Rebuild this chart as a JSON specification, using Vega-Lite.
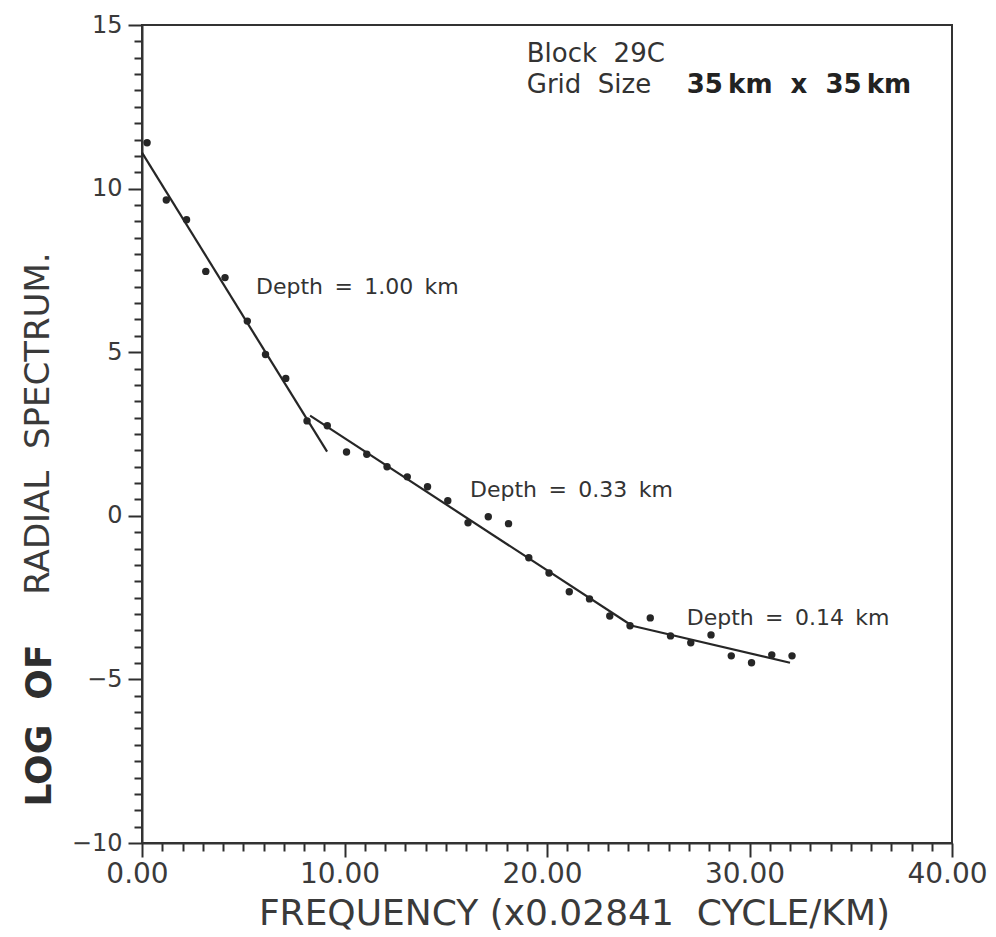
{
  "$schema": "https://vega.github.io/schema/vega-lite/v6.json",
  "width": 810,
  "height": 818,
  "autosize": {"type": "none"},
  "padding": {"left": 142, "top": 25, "right": 44, "bottom": 94},
  "background": "white",
  "config": {
    "view": {"stroke": "#333333", "strokeWidth": 2},
    "font": "DejaVu Sans",
    "text": {"font": "DejaVu Sans"}
  },
  "datasets": {
    "points": [
      {"freq": 0.25, "logspec": 11.4},
      {"freq": 1.2, "logspec": 9.65},
      {"freq": 2.2, "logspec": 9.05},
      {"freq": 3.15, "logspec": 7.47},
      {"freq": 4.1, "logspec": 7.28},
      {"freq": 5.2, "logspec": 5.95},
      {"freq": 6.1, "logspec": 4.93},
      {"freq": 7.1, "logspec": 4.2},
      {"freq": 8.15, "logspec": 2.9},
      {"freq": 9.15, "logspec": 2.75},
      {"freq": 10.1, "logspec": 1.95},
      {"freq": 11.1, "logspec": 1.88},
      {"freq": 12.1, "logspec": 1.5},
      {"freq": 13.1, "logspec": 1.19},
      {"freq": 14.1, "logspec": 0.89},
      {"freq": 15.1, "logspec": 0.46},
      {"freq": 16.1, "logspec": -0.21},
      {"freq": 17.1, "logspec": -0.03},
      {"freq": 18.1, "logspec": -0.24},
      {"freq": 19.1, "logspec": -1.28},
      {"freq": 20.1, "logspec": -1.75},
      {"freq": 21.1, "logspec": -2.32},
      {"freq": 22.1, "logspec": -2.54},
      {"freq": 23.1, "logspec": -3.06},
      {"freq": 24.1, "logspec": -3.36},
      {"freq": 25.1, "logspec": -3.12},
      {"freq": 26.1, "logspec": -3.67},
      {"freq": 27.1, "logspec": -3.88},
      {"freq": 28.1, "logspec": -3.64},
      {"freq": 29.1, "logspec": -4.28},
      {"freq": 30.1, "logspec": -4.49},
      {"freq": 31.1, "logspec": -4.25},
      {"freq": 32.1, "logspec": -4.28}
    ],
    "fits": [
      {"segment": 1, "order": 1, "freq": 0.0, "logspec": 11.1},
      {"segment": 1, "order": 2, "freq": 9.14, "logspec": 1.96},
      {"segment": 2, "order": 1, "freq": 8.3, "logspec": 3.06},
      {"segment": 2, "order": 2, "freq": 24.2, "logspec": -3.36},
      {"segment": 3, "order": 1, "freq": 24.2, "logspec": -3.36},
      {"segment": 3, "order": 2, "freq": 32.0, "logspec": -4.49}
    ],
    "notes": [
      {"label": "Depth\u00a0\u2009=\u00a0\u20091.00\u00a0\u2009km", "freq": 5.63, "logspec": 6.78, "style": "depth"},
      {"label": "Depth\u00a0\u2009=\u00a0\u20090.33\u00a0\u2009km", "freq": 16.2, "logspec": 0.58, "style": "depth"},
      {"label": "Depth\u00a0\u2009=\u00a0\u20090.14\u00a0\u2009km", "freq": 26.9, "logspec": -3.33, "style": "depth"},
      {"label": "Block\u00a0\u00a029C", "freq": 19.0, "logspec": 13.88, "style": "head"},
      {"label": "Grid\u00a0\u00a0Size", "freq": 19.0, "logspec": 12.93, "style": "head"},
      {"label": "35\u2009km\u00a0\u00a0x\u00a0\u00a035\u2009km", "freq": 26.9, "logspec": 12.93, "style": "bold"}
    ]
  },
  "layer": [
    {
      "data": {"name": "points"},
      "mark": {"type": "circle", "size": 55, "color": "#262626", "opacity": 1},
      "encoding": {
        "x": {
          "field": "freq", "type": "quantitative",
          "scale": {"domain": [0, 40], "nice": false, "zero": false},
          "axis": {
            "orient": "bottom",
            "values": [0,1,2,3,4,5,6,7,8,9,10,11,12,13,14,15,16,17,18,19,20,21,22,23,24,25,26,27,28,29,30,31,32,33,34,35,36,37,38,39,40],
            "labelExpr": "datum.value % 10 === 0 ? format(datum.value, '.2f') : ''",
            "tickSize": {"condition": {"test": "datum.value % 10 === 0", "value": 14}, "value": 8},
            "tickWidth": 2, "tickColor": "#2e2e2e",
            "domainColor": "#333333", "domainWidth": 2, "grid": false,
            "labelFont": "DejaVu Sans", "labelFontSize": 28, "labelColor": "#3a3a3a",
            "labelPadding": 3, "labelOffset": -5, "labelFlush": false, "labelOverlap": false,
            "title": "FREQUENCY\u00a0(x0.02841\u00a0\u00a0CYCLE/KM)",
            "titleFont": "DejaVu Sans", "titleFontSize": 36, "titleFontWeight": "normal",
            "titleColor": "#3a3a3a", "titleX": 432, "titleY": 81,
            "titleAlign": "center", "titleBaseline": "alphabetic"
          }
        },
        "y": {
          "field": "logspec", "type": "quantitative",
          "scale": {"domain": [-10, 15], "nice": false, "zero": false},
          "axis": {
            "orient": "left",
            "values": [-10,-9.5,-9,-8.5,-8,-7.5,-7,-6.5,-6,-5.5,-5,-4.5,-4,-3.5,-3,-2.5,-2,-1.5,-1,-0.5,0,0.5,1,1.5,2,2.5,3,3.5,4,4.5,5,5.5,6,6.5,7,7.5,8,8.5,9,9.5,10,10.5,11,11.5,12,12.5,13,13.5,14,14.5,15],
            "labelExpr": "datum.value % 5 === 0 ? format(datum.value, 'd') : ''",
            "tickSize": {"condition": {"test": "datum.value % 5 === 0", "value": 14}, "value": 8},
            "tickWidth": 2, "tickColor": "#2e2e2e",
            "domainColor": "#333333", "domainWidth": 2, "grid": false,
            "labelFont": "DejaVu Sans", "labelFontSize": 24, "labelColor": "#3a3a3a",
            "labelPadding": 6, "labelFlush": false, "labelOverlap": false,
            "title": "RADIAL\u00a0\u00a0SPECTRUM.",
            "titleFont": "DejaVu Sans", "titleFontSize": 34, "titleFontWeight": "normal",
            "titleColor": "#3a3a3a", "titleAngle": 270, "titleX": -94, "titleY": 398,
            "titleAlign": "center", "titleBaseline": "alphabetic"
          }
        }
      }
    },
    {
      "data": {"name": "fits"},
      "mark": {"type": "line", "color": "#262626", "strokeWidth": 2.2},
      "encoding": {
        "x": {"field": "freq", "type": "quantitative", "axis": null},
        "y": {
          "field": "logspec", "type": "quantitative",
          "axis": {
            "orient": "left", "values": [], "ticks": false,
            "labels": false, "domain": false, "grid": false,
            "title": "LOG\u00a0\u00a0OF",
            "titleFont": "DejaVu Sans", "titleFontSize": 36, "titleFontWeight": "bold",
            "titleColor": "#2e2e2e", "titleAngle": 270, "titleX": -92, "titleY": 700,
            "titleAlign": "center", "titleBaseline": "alphabetic"
          }
        },
        "detail": {"field": "segment", "type": "nominal"},
        "order": {"field": "order", "type": "quantitative"}
      }
    },
    {
      "data": {"name": "notes"},
      "transform": [{"filter": "datum.style == 'depth'"}],
      "mark": {"type": "text", "align": "left", "baseline": "alphabetic", "fontSize": 22, "color": "#333333", "font": "DejaVu Sans"},
      "encoding": {
        "x": {"field": "freq", "type": "quantitative", "axis": null},
        "y": {"field": "logspec", "type": "quantitative", "axis": null},
        "text": {"field": "label", "type": "nominal"}
      }
    },
    {
      "data": {"name": "notes"},
      "transform": [{"filter": "datum.style == 'head'"}],
      "mark": {"type": "text", "align": "left", "baseline": "alphabetic", "fontSize": 26, "color": "#333333", "font": "DejaVu Sans"},
      "encoding": {
        "x": {"field": "freq", "type": "quantitative", "axis": null},
        "y": {"field": "logspec", "type": "quantitative", "axis": null},
        "text": {"field": "label", "type": "nominal"}
      }
    },
    {
      "data": {"name": "notes"},
      "transform": [{"filter": "datum.style == 'bold'"}],
      "mark": {"type": "text", "align": "left", "baseline": "alphabetic", "fontSize": 26, "fontWeight": "bold", "color": "#222222", "font": "DejaVu Sans"},
      "encoding": {
        "x": {"field": "freq", "type": "quantitative", "axis": null},
        "y": {"field": "logspec", "type": "quantitative", "axis": null},
        "text": {"field": "label", "type": "nominal"}
      }
    }
  ],
  "resolve": {"axis": {"x": "independent", "y": "independent"}}
}
